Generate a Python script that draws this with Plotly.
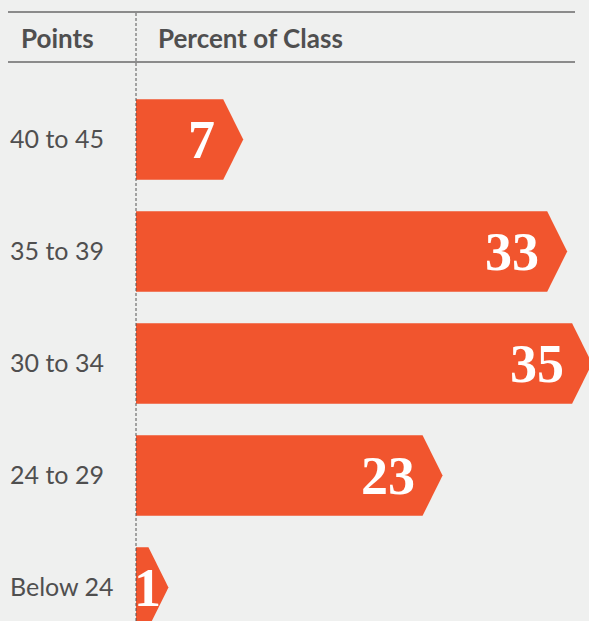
import plotly.graph_objects as go

# ---- data ----
categories = ["40 to 45", "35 to 39", "30 to 34", "24 to 29", "Below 24"]
percent_of_class = [7, 33, 35, 23, 1]
header_left = "Points"
header_right = "Percent of Class"

# ---- style constants ----
W, H = 589, 621
BG = "#eff0ef"
BAR = "#f1552e"
TEXT = "#4f4f4f"
LINE = "#6a6a6a"
PX_PER_UNIT = 12.46      # horizontal scale
AXIS_PX = 136            # x position of zero line
ROW0_PX = 139.5          # centre of first row
ROW_STEP_PX = 112        # row spacing
BAR_FRAC = 0.36          # half bar height as fraction of row step
TIP_PX = 20              # arrow tip length
LABEL_MIN_PX = 33        # minimum label anchor distance from zero line

x_min = -AXIS_PX / PX_PER_UNIT
x_max = (W - AXIS_PX) / PX_PER_UNIT
y_top = -ROW0_PX / ROW_STEP_PX
y_bot = (H - ROW0_PX) / ROW_STEP_PX
tip = TIP_PX / PX_PER_UNIT

fig = go.Figure()

for i, (cat, v) in enumerate(zip(categories, percent_of_class)):
    xs = [0, v, v + tip, v, 0, 0]
    ys = [i - BAR_FRAC, i - BAR_FRAC, i, i + BAR_FRAC, i + BAR_FRAC, i - BAR_FRAC]
    fig.add_trace(go.Scatter(x=xs, y=ys, mode="lines", fill="toself",
                             fillcolor=BAR, line=dict(width=0, color=BAR),
                             hoverinfo="skip", showlegend=False))
    lab_x = max(v, LABEL_MIN_PX / PX_PER_UNIT)
    fig.add_annotation(x=lab_x, y=i, xref="x", yref="y", text=f"<b>{v}</b>",
                       xanchor="right", yanchor="middle", xshift=-6, yshift=0,
                       showarrow=False,
                       font=dict(family="Liberation Serif", size=54, color="white"))
    fig.add_annotation(x=8 / W, y=i, xref="paper", yref="y", text=cat,
                       xanchor="left", yanchor="middle", yshift=2, showarrow=False,
                       font=dict(family="Lato", size=25, color=TEXT))

def py(px):
    return 1 - px / H

fig.add_annotation(x=19 / W, y=py(38), xref="paper", yref="paper",
                   text=f"<b>{header_left}</b>", xanchor="left", yanchor="middle",
                   showarrow=False, font=dict(family="Lato", size=26, color=TEXT))
fig.add_annotation(x=156 / W, y=py(38), xref="paper", yref="paper",
                   text=f"<b>{header_right}</b>", xanchor="left", yanchor="middle",
                   showarrow=False, font=dict(family="Lato", size=26, color=TEXT))

# header rules
for ypx in (12, 62):
    fig.add_shape(type="line", xref="paper", yref="paper",
                  x0=8 / W, x1=575 / W, y0=py(ypx), y1=py(ypx),
                  line=dict(color=LINE, width=1.5), layer="above")
# dotted zero line
fig.add_shape(type="line", xref="x", yref="paper", x0=0, x1=0,
              y0=0, y1=py(12), line=dict(color="#555555", width=1, dash="3px,2px"),
              layer="above")

fig.update_layout(
    width=W, height=H, margin=dict(l=0, r=0, t=0, b=0),
    paper_bgcolor=BG, plot_bgcolor=BG,
    xaxis=dict(range=[x_min, x_max], visible=False, fixedrange=True),
    yaxis=dict(range=[y_bot, y_top], visible=False, fixedrange=True),
    showlegend=False,
)

fig.write_html("out.html")
